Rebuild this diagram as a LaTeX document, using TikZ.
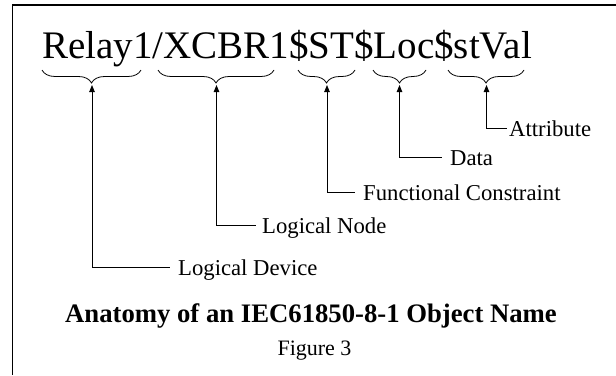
\documentclass[tikz,border=0pt]{standalone}
\usepackage{fontspec}
\setmainfont{Liberation Serif}
\usetikzlibrary{decorations.pathreplacing,arrows.meta}
\begin{document}
\begin{tikzpicture}[x=1pt,y=-1pt,
  bracestyle/.style={decorate,decoration={brace,mirror,amplitude=13pt},line width=0.8pt},
  lbl/.style={anchor=west,inner sep=0pt,font=\fontsize{22.7}{26}\selectfont,text height=16pt,text depth=0pt},
  conn/.style={{Triangle[length=7pt,width=5.5pt]}-,line width=0.8pt}]
\useasboundingbox (0,0) rectangle (616,375);
\draw[line width=1.6pt] (616,5) -- (12.5,5) -- (12.5,375);
\node[anchor=base west,inner sep=0pt,font=\fontsize{39}{41}\selectfont] (name) at (42,58) {Relay1/XCBR1\$ST\$Loc\$stVal};
% braces
\draw[bracestyle] (42,70) -- (141,70);
\draw[bracestyle] (158,70) -- (274,70);
\draw[bracestyle] (298,70) -- (355,70);
\draw[bracestyle] (373,70) -- (426,70);
\draw[bracestyle] (448,70) -- (524,70);
\coordinate (t1) at (92,85);
\coordinate (t2) at (216.5,85);
\coordinate (t3) at (327,85);
\coordinate (t4) at (399.5,85);
\coordinate (t5) at (486.5,85);
% labels
\node[lbl] (ld) at (178,267) {Logical Device};
\node[lbl] (ln) at (262,225) {Logical Node};
\node[lbl] (fc) at (363,192) {Functional Constraint};
\node[lbl] (da) at (450,157) {Data};
\node[lbl] (at) at (509,128) {Attribute};
% connectors
\draw[conn,shorten >=8pt] (t1) |- (ld.west);
\draw[conn,shorten >=6pt] (t2) |- (ln.west);
\draw[conn,shorten >=8pt] (t3) |- (fc.west);
\draw[conn,shorten >=8pt] (t4) |- (da.west);
\draw[conn,shorten >=2pt] (t5) |- (at.west);
% captions
\node[anchor=base,inner sep=0pt,font=\bfseries\fontsize{26.7}{30}\selectfont] (title) at (311,322) {Anatomy of an IEC61850-8-1 Object Name};
\node[anchor=base,inner sep=0pt,font=\fontsize{22}{26}\selectfont] (fig) at (314.5,355) {Figure 3};
\end{tikzpicture}
\end{document}
